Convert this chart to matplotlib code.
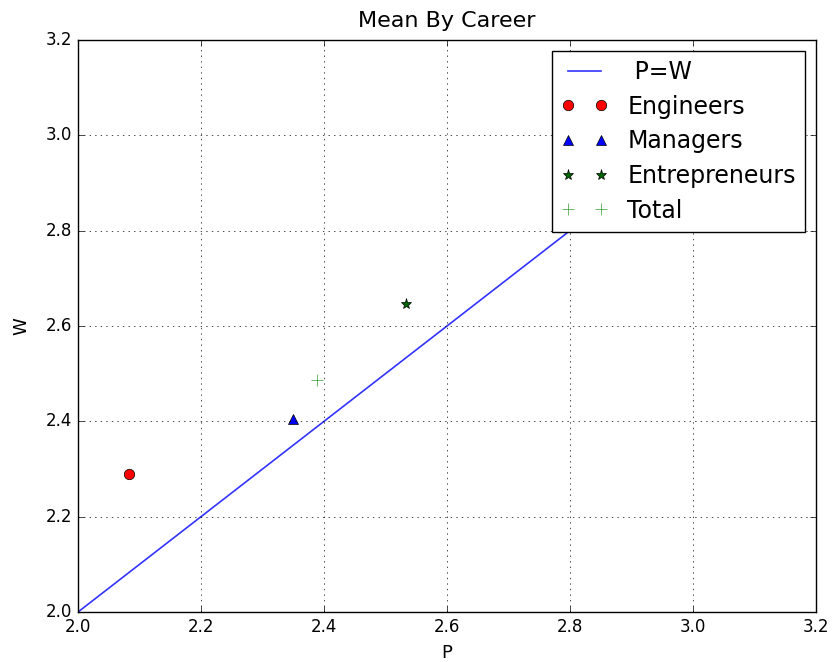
import matplotlib
matplotlib.use("Agg")
import matplotlib.pyplot as plt

plt.style.use("classic")

# mean (P, W) per career group
engineers = (2.083, 2.290)
managers = (2.349, 2.405)
entrepreneurs = (2.533, 2.646)
total = (2.388, 2.486)
diag = [2.0, 3.0]

fig = plt.figure(figsize=(8.32, 6.62), dpi=100, facecolor="white")
ax = fig.add_axes([0.09375, 0.0755, 0.8870, 0.8641])

ax.plot(diag, diag, color="blue", alpha=0.8, linewidth=1.2, label=" P=W")
ax.plot(engineers[0], engineers[1], "o", color="red", markersize=7.5, label="Engineers")
ax.plot(managers[0], managers[1], "^", color="blue", markersize=7.5, label="Managers")
ax.plot(entrepreneurs[0], entrepreneurs[1], "*", color="darkgreen", markersize=8, label="Entrepreneurs")
ax.plot(total[0], total[1], "+", color="green", alpha=0.8, markersize=8, label="Total")

ax.set_xlim(2.0, 3.2)
ax.set_ylim(2.0, 3.2)
ax.grid(True)
ax.set_title("Mean By Career", fontsize=16, pad=9)
ax.set_xlabel("P", fontsize=13, labelpad=6)
ax.set_ylabel("W", fontsize=13, labelpad=11)
ax.legend(loc="upper right", numpoints=2, fontsize=17, labelspacing=0.45,
          borderaxespad=0.45)

fig.savefig("out.png", dpi=100, facecolor="white")
